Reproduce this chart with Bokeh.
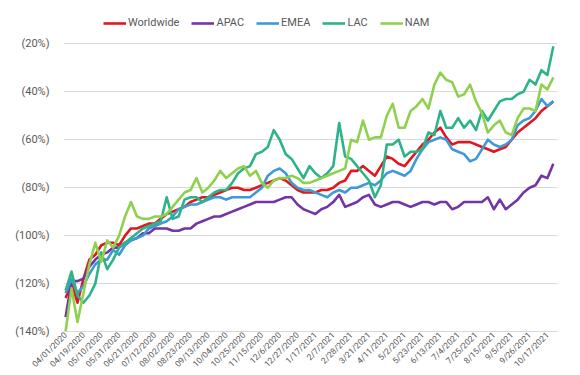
import math
from bokeh.plotting import figure
from bokeh.models import Legend, LegendItem, FixedTicker, Range1d
from bokeh.embed import file_html
from bokeh.resources import INLINE

# x-axis tick labels (every 3rd weekly observation)
tick_labels = [
    "04/01/2020", "04/19/2020", "05/10/2020", "05/31/2020", "06/21/2020",
    "07/12/2020", "08/02/2020", "08/23/2020", "09/13/2020", "10/04/2020",
    "10/25/2020", "11/15/2020", "12/6/2020", "12/27/2020", "1/17/2021",
    "2/7/2021", "2/28/2021", "3/21/2021", "4/11/2021", "5/2/2021",
    "5/23/2021", "6/13/2021", "7/4/2021", "7/25/2021", "8/15/2021",
    "9/5/2021", "9/26/2021", "10/17/2021",
]

# values shown as (xx%) -> negative percentages (magnitudes stored here)
worldwide = [126, 120, 128, 118, 110, 108, 104, 103, 103, 104, 100, 97, 97, 96, 95, 95, 93, 91, 90, 89,
             88, 86, 85, 84, 84, 83, 82, 81, 80, 80, 81, 81, 80, 79, 78, 77, 76, 77, 79, 81,
             82, 82, 82, 81, 81, 80, 78, 77, 73, 73, 71, 73, 75, 71, 67, 68, 70, 71, 68, 65,
             62, 60, 57, 55, 59, 62, 61, 61, 61, 62, 63, 64, 65, 64, 63, 60, 57, 55, 53, 51,
             48, 46, 44]
apac = [134, 119, 119, 118, 113, 110, 108, 107, 105, 105, 103, 102, 101, 99, 99, 97, 97, 97, 98, 98,
        97, 97, 95, 94, 93, 92, 92, 91, 90, 89, 88, 87, 86, 86, 86, 86, 85, 84, 84, 87,
        89, 90, 91, 89, 88, 86, 83, 88, 87, 86, 84, 83, 87, 88, 87, 86, 86, 87, 88, 87,
        86, 86, 87, 86, 86, 89, 88, 86, 86, 86, 86, 84, 89, 85, 89, 87, 85, 82, 80, 79,
        75, 76, 70]
emea = [124, 118, 124, 121, 116, 112, 110, 110, 106, 108, 104, 102, 101, 100, 97, 96, 95, 94, 92, 89,
        88, 87, 87, 86, 85, 84, 84, 85, 84, 84, 84, 84, 82, 80, 75, 73, 72, 74, 78, 80,
        81, 81, 82, 83, 84, 82, 81, 82, 80, 80, 79, 78, 79, 77, 74, 73, 74, 75, 73, 68,
        64, 61, 60, 59, 60, 64, 65, 66, 69, 68, 64, 60, 62, 63, 62, 60, 54, 52, 51, 48,
        43, 46, 44]
lac = [123, 115, 125, 128, 125, 120, 107, 114, 110, 105, 103, 101, 99, 97, 96, 95, 94, 84, 93, 92,
       85, 84, 84, 86, 84, 82, 81, 81, 78, 74, 72, 71, 66, 65, 63, 56, 60, 66, 68, 72,
       76, 71, 74, 76, 74, 71, 53, 67, 68, 71, 74, 77, 84, 79, 62, 62, 60, 67, 65, 65,
       64, 57, 58, 48, 55, 55, 51, 55, 52, 56, 48, 52, 48, 44, 43, 43, 41, 40, 35, 37,
       31, 33, 21]
nam = [140, 122, 136, 124, 112, 103, 111, 102, 105, 100, 92, 86, 92, 93, 93, 92, 92, 91, 88, 85,
       82, 81, 76, 82, 80, 77, 73, 76, 74, 72, 71, 75, 73, 78, 80, 77, 76, 76, 75, 76,
       78, 78, 77, 76, 75, 74, 73, 72, 60, 61, 52, 60, 59, 59, 50, 45, 55, 55, 48, 46,
       43, 47, 37, 32, 35, 36, 42, 41, 37, 44, 49, 57, 54, 52, 57, 58, 51, 47, 47, 48,
       37, 39, 34]

series_names = ["Worldwide", "APAC", "EMEA", "LAC", "NAM"]
series_values = [worldwide, apac, emea, lac, nam]
series_colors = ["#e3161f", "#7434a6", "#3d9ad6", "#2db388", "#8fd14f"]

y_ticks = [-140, -120, -100, -80, -60, -40, -20]

n = len(worldwide)
xs = list(range(n))

# frame extends above the (20%) line to hold the legend
p = figure(width=580, height=375, output_backend="svg", toolbar_location=None,
           x_range=Range1d(-0.35, n - 1 + 0.7), y_range=Range1d(-140, -4.0),
           min_border_left=63, min_border_right=23, min_border_top=5, min_border_bottom=0)
p.outline_line_color = None
p.background_fill_color = "white"
p.border_fill_color = "white"

items = []
for name, vals, col in zip(series_names, series_values, series_colors):
    r = p.line(xs, [-v for v in vals], line_color=col, line_width=2.6, line_join="round")
    items.append(LegendItem(label=name, renderers=[r]))

# axes
p.xgrid.grid_line_color = None
p.ygrid.grid_line_color = "#d9d9d9"
p.ygrid.grid_line_width = 1

p.yaxis.ticker = FixedTicker(ticks=y_ticks)
p.yaxis.major_label_overrides = {t: "(%d%%)" % abs(t) for t in y_ticks}
p.yaxis.axis_line_color = None
p.yaxis.major_tick_line_color = None
p.yaxis.minor_tick_line_color = None
p.yaxis.major_label_text_color = "#595959"
p.yaxis.major_label_text_font = "Roboto"
p.yaxis.major_label_text_font_size = "11px"
p.yaxis.major_label_standoff = 8

x_ticks = [3 * i for i in range(len(tick_labels))]
p.xaxis.ticker = FixedTicker(ticks=x_ticks)
p.xaxis.major_label_overrides = {t: lab for t, lab in zip(x_ticks, tick_labels)}
p.xaxis.major_label_orientation = math.pi / 4
p.xaxis.axis_line_color = "#d9d9d9"
p.xaxis.axis_line_width = 1
p.xaxis.major_tick_line_color = None
p.xaxis.minor_tick_line_color = None
p.xaxis.major_tick_out = 0
p.xaxis.major_tick_in = 0
p.xaxis.major_label_text_color = "#595959"
p.xaxis.major_label_text_font = "Roboto"
p.xaxis.major_label_text_font_size = "8.5px"
p.xaxis.major_label_standoff = 2

legend = Legend(items=items, orientation="horizontal", location=(40, 302),
                label_text_font="Roboto", label_text_font_size="11px",
                label_text_color="#595959", glyph_width=23, glyph_height=12,
                label_height=12, label_standoff=2, spacing=12, padding=2, margin=0,
                border_line_color=None, background_fill_alpha=0)
p.add_layout(legend)

open("out.html", "w").write(file_html(p, INLINE))
